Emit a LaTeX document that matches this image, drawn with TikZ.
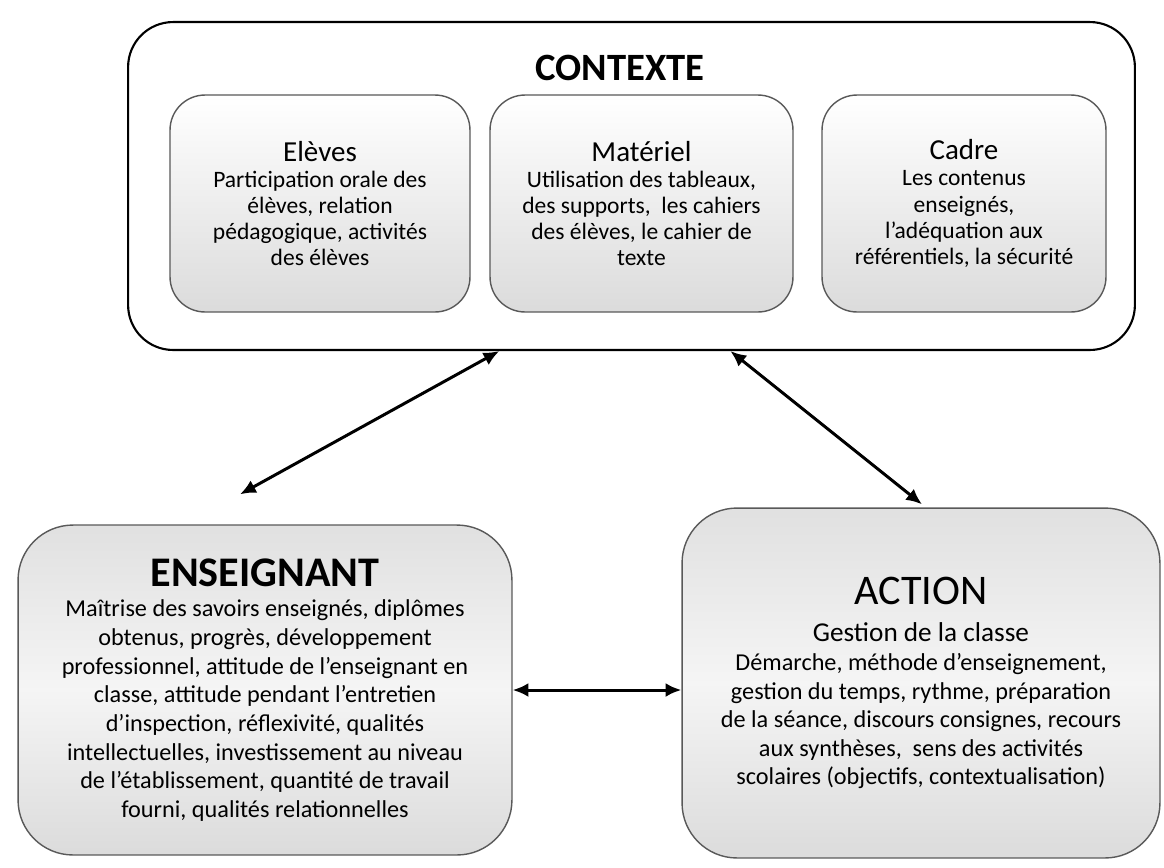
\documentclass[tikz,border=0pt]{standalone}
\usepackage{fontspec}
\setmainfont{Carlito}
\usetikzlibrary{calc, arrows.meta}

\begin{document}
\begin{tikzpicture}[x=0.02cm, y=-0.02cm, >={Latex[length=9pt, width=8pt]}]
    % Styles
    \tikzset{
        ctxbox/.style={draw=black, line width=1.2pt, rounded corners=0.9cm, fill=white,
            minimum width=20.14cm, minimum height=6.56cm},
        smallbox/.style={draw=gray!70!black, line width=0.8pt, rounded corners=0.7cm,
            top color=white, bottom color=gray!28, minimum height=4.34cm,
            align=center, font=\fontsize{13.4}{14.9}\selectfont},
        bigbox/.style={draw=gray!70!black, line width=0.8pt, rounded corners=1.1cm,
            top color=gray!24, bottom color=gray!28, middle color=gray!8,
            align=center, font=\fontsize{13.8}{16.3}\selectfont},
        link/.style={<->, line width=1.7pt}
    }
    \useasboundingbox (0,0) rectangle (1164,867);

    % Context frame
    \node[ctxbox] (contexte) at (631.5,186) {};
    \node[font=\bfseries\fontsize{22}{26}\selectfont] (ctxtitle) at (620,68) {CONTEXTE};

    % Inner boxes
    \node[smallbox, minimum width=6cm] (eleves) at (320,203.5)
        {{\fontsize{16.5}{20}\selectfont Elèves}\\Participation orale des\\élèves, relation\\pédagogique, activités\\des élèves};
    \node[smallbox, minimum width=6.06cm] (materiel) at (641.5,203.5)
        {{\fontsize{16.5}{20}\selectfont Matériel}\\Utilisation des tableaux,\\des supports,~ les cahiers\\des élèves, le cahier de\\texte};
    \node[smallbox, minimum width=5.68cm] (cadre) at (964,203.5)
        {{\fontsize{16.5}{20}\selectfont Cadre}\\Les contenus\\enseignés,\\l'adéquation aux\\référentiels, la sécurité};

    % Bottom boxes
    \node[bigbox, minimum width=9.88cm, minimum height=6.6cm] (enseignant) at (265,690)
        {{\bfseries\fontsize{24}{30}\selectfont ENSEIGNANT}\\[1pt]
         Maîtrise des savoirs enseignés, diplômes\\obtenus, progrès, développement\\
         professionnel, attitude de l'enseignant en\\classe, attitude pendant l'entretien\\
         d'inspection, réflexivité, qualités\\intellectuelles, investissement au niveau\\
         de l'établissement, quantité de travail\\fourni, qualités relationnelles};
    \node[bigbox, minimum width=9.56cm, minimum height=7cm] (action) at (921,683)
        {{\fontsize{24}{30}\selectfont ACTION}\\[5pt]
         {\fontsize{15.5}{19}\selectfont Gestion de la classe}\\
         Démarche, méthode d'enseignement,\\gestion du temps, rythme, préparation\\
         de la séance, discours consignes, recours\\aux synthèses,~ sens des activités\\
         scolaires (objectifs, contextualisation)};

    % Connectors
    \coordinate (ctx-left) at ($(contexte.south west)!0.369!(contexte.south east)$);
    \coordinate (ctx-right) at ($(contexte.south west)!0.598!(contexte.south east)$);
    \draw[link] (ctx-left) -- ([xshift=-0.5cm, yshift=0.6cm]enseignant.north);
    \draw[link] (ctx-right) -- ([xshift=0.02cm, yshift=0.06cm]action.north);
    \draw[link] (enseignant.east) -- (action.west |- enseignant.east);
\end{tikzpicture}
\end{document}
